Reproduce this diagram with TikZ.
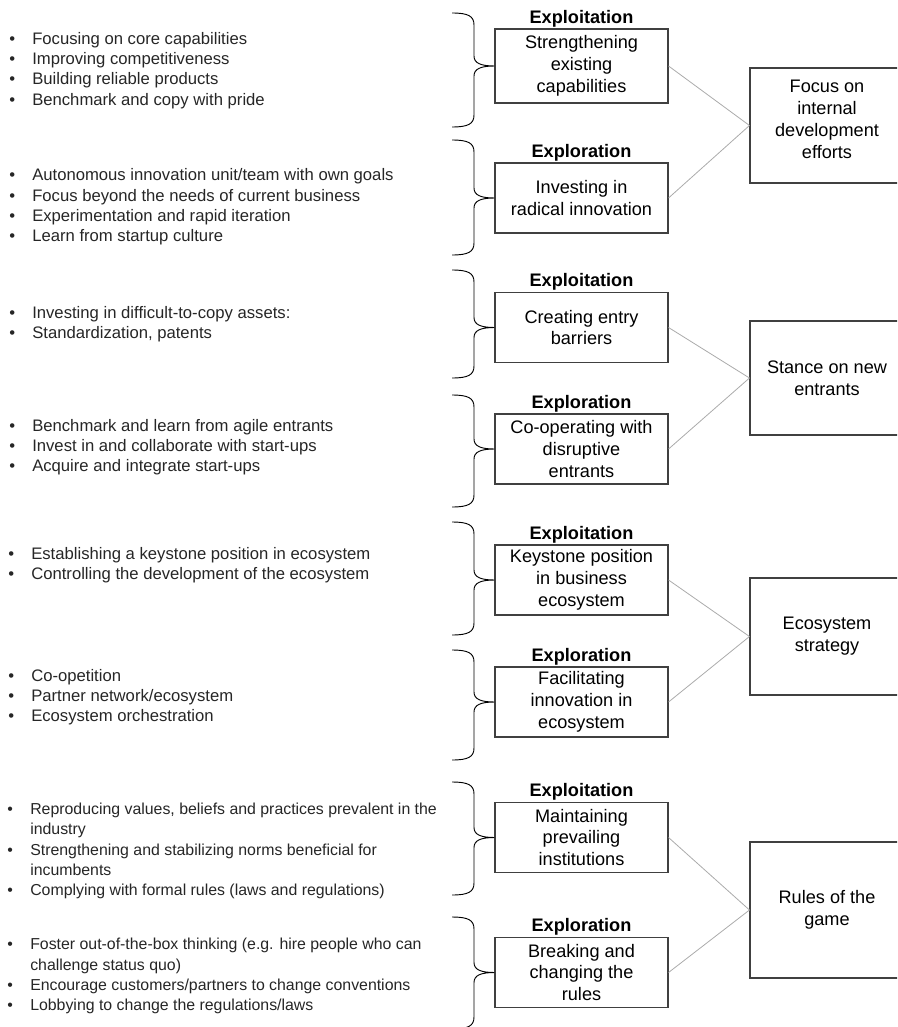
\documentclass[tikz,border=0pt]{standalone}
\usepackage{fontspec}
\setmainfont{Liberation Sans}
\usetikzlibrary{positioning}

\newcommand{\blt}{\makebox[17.25pt][l]{\textbullet}}
\newcommand{\blind}{\hspace*{17.25pt}}

\begin{document}
\begin{tikzpicture}[x=0.75pt, y=-0.75pt]
    \tikzstyle{midbox} = [draw=black!75, line width=0.8pt, minimum width=129.75pt, minimum height=52.5pt, align=center, inner sep=0pt, font=\fontsize{13.6}{16.3}\selectfont]
    \tikzstyle{goalbox} = [draw=black!75, line width=0.8pt, minimum width=115.5pt, align=center, inner sep=0pt, font=\fontsize{13.6}{16.6}\selectfont]
    \tikzstyle{head} = [inner sep=0pt, font=\bfseries\fontsize{13.6}{16.3}\selectfont]
    \tikzstyle{pts} = [anchor=west, align=left, inner sep=0pt, text=black!85, font=\fontsize{12.5}{15.2}\selectfont]
    \tikzstyle{brc} = [line width=0.7pt]
    \tikzstyle{link} = [color=black!33, line width=0.6pt]

    \useasboundingbox (0,0) rectangle (897,1027);
    \clip (0,0) rectangle (897,1027);

    % middle column
    \node[midbox, minimum height=55.5pt] (s1) at (581.5,66) {Strengthening\\existing\\capabilities};
    \node[midbox] (s2) at (581.5,198) {Investing in\\radical innovation};
    \node[midbox] (s3) at (581.5,327.5) {Creating entry\\barriers};
    \node[midbox] (s4) at (581.5,449) {Co-operating with\\disruptive\\entrants};
    \node[midbox] (s5) at (581.5,580) {Keystone position\\in business\\ecosystem};
    \node[midbox] (s6) at (581.5,702) {Facilitating\\innovation in\\ecosystem};
    \node[midbox] (s7) at (581.5,837.5) {Maintaining\\prevailing\\institutions};
    \node[midbox] (s8) at (581.5,972.5) {Breaking and\\changing the\\rules};

    \node[head, above=1pt of s1] {Exploitation};
    \node[head, above=1pt of s2] {Exploration};
    \node[head, above=1pt of s3] {Exploitation};
    \node[head, above=1pt of s4] {Exploration};
    \node[head, above=1pt of s5] {Exploitation};
    \node[head, above=1pt of s6] {Exploration};
    \node[head, above=1pt of s7] {Exploitation};
    \node[head, above=1pt of s8] {Exploration};

    % right column
    \node[goalbox, minimum height=86.25pt] (g1) at (827,125.5) {Focus on\\internal\\development\\efforts\vspace{9pt}};
    \node[goalbox, minimum height=85.5pt] (g2) at (827,378) {Stance on new\\entrants};
    \node[goalbox, minimum height=87.75pt] (g3) at (827,636.5) {Ecosystem\\strategy};
    \node[goalbox, minimum height=102pt] (g4) at (827,910) {Rules of the\\game};

    \draw[link] (s1.east) -- (g1.west);
    \draw[link] (s2.east) -- (g1.west);
    \draw[link] (s3.east) -- (g2.west);
    \draw[link] (s4.east) -- (g2.west);
    \draw[link] (s5.east) -- (g3.west);
    \draw[link] (s6.east) -- (g3.west);
    \draw[link] (s7.east) -- (g4.west);
    \draw[link] (s8.east) -- (g4.west);

    % bullet lists
    \node[pts] (p1) at (9,70.5) {\blt Focusing on core capabilities\\ \blt Improving competitiveness\\ \blt Building reliable products\\ \blt Benchmark and copy with pride};
    \node[pts] (p2) at (9,207) {\blt Autonomous innovation unit/team with own goals\\ \blt Focus beyond the needs of current business\\ \blt Experimentation and rapid iteration\\ \blt Learn from startup culture};
    \node[pts] (p3) at (9,324) {\blt Investing in difficult-to-copy assets:\\ \blt Standardization, patents};
    \node[pts] (p4) at (9,447) {\blt Benchmark and learn from agile entrants\\ \blt Invest in and collaborate with start-ups\\ \blt Acquire and integrate start-ups};
    \node[pts] (p5) at (8,565) {\blt Establishing a keystone position in ecosystem\\ \blt Controlling the development of the ecosystem};
    \node[pts] (p6) at (8,697) {\blt Co-opetition\\ \blt Partner network/ecosystem\\ \blt Ecosystem orchestration};
    \node[pts, font=\fontsize{11.9}{15.1}\selectfont] (p7) at (7,851) {\blt Reproducing values, beliefs and practices prevalent in the\\ \blind industry\\ \blt Strengthening and stabilizing norms beneficial for\\ \blind incumbents\\ \blt Complying with formal rules (laws and regulations)};
    \node[pts, font=\fontsize{11.9}{15.1}\selectfont] (p8) at (7,976) {\blt Foster out-of-the-box thinking (e.g. hire people who can\\ \blind challenge status quo)\\ \blt Encourage customers/partners to change conventions\\ \blt Lobbying to change the regulations/laws};

    % braces
    \draw[brc] (452,13) .. controls +(16,0) and +(0,-9) .. (474,25) -- (474,56) .. controls +(0,7) and +(-14,0) .. (s1.west) .. controls +(-14,0) and +(0,-7) .. (474,76) -- (474,115) .. controls +(0,9) and +(16,0) .. (452,127);
    \draw[brc] (452,140) .. controls +(16,0) and +(0,-9) .. (474,152) -- (474,188) .. controls +(0,7) and +(-14,0) .. (s2.west) .. controls +(-14,0) and +(0,-7) .. (474,208) -- (474,243) .. controls +(0,9) and +(16,0) .. (452,255);
    \draw[brc] (452,270) .. controls +(16,0) and +(0,-9) .. (474,282) -- (474,317.5) .. controls +(0,7) and +(-14,0) .. (s3.west) .. controls +(-14,0) and +(0,-7) .. (474,337.5) -- (474,366) .. controls +(0,9) and +(16,0) .. (452,378);
    \draw[brc] (452,395) .. controls +(16,0) and +(0,-9) .. (474,407) -- (474,439) .. controls +(0,7) and +(-14,0) .. (s4.west) .. controls +(-14,0) and +(0,-7) .. (474,459) -- (474,495) .. controls +(0,9) and +(16,0) .. (452,507);
    \draw[brc] (452,522) .. controls +(16,0) and +(0,-9) .. (474,534) -- (474,570) .. controls +(0,7) and +(-14,0) .. (s5.west) .. controls +(-14,0) and +(0,-7) .. (474,590) -- (474,623) .. controls +(0,9) and +(16,0) .. (452,635);
    \draw[brc] (452,650) .. controls +(16,0) and +(0,-9) .. (474,662) -- (474,692) .. controls +(0,7) and +(-14,0) .. (s6.west) .. controls +(-14,0) and +(0,-7) .. (474,712) -- (474,748) .. controls +(0,9) and +(16,0) .. (452,760);
    \draw[brc] (452,782) .. controls +(16,0) and +(0,-9) .. (474,794) -- (474,827.5) .. controls +(0,7) and +(-14,0) .. (s7.west) .. controls +(-14,0) and +(0,-7) .. (474,847.5) -- (474,883) .. controls +(0,9) and +(16,0) .. (452,895);
    \draw[brc] (452,917) .. controls +(16,0) and +(0,-9) .. (474,929) -- (474,962.5) .. controls +(0,7) and +(-14,0) .. (s8.west) .. controls +(-14,0) and +(0,-7) .. (474,982.5) -- (474,1017) .. controls +(0,9) and +(16,0) .. (452,1029);
\end{tikzpicture}
\end{document}
